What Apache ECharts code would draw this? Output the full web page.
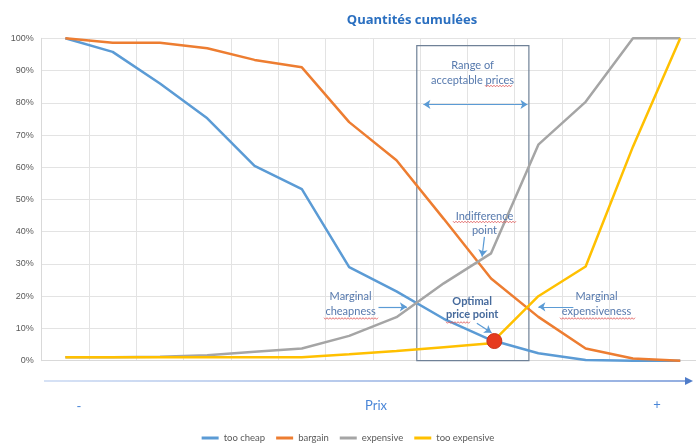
<!DOCTYPE html>
<html><head><meta charset="utf-8">
<script src="https://cdn.jsdelivr.net/npm/echarts@6/dist/echarts.min.js"></script>
<style>html,body{margin:0;padding:0;background:#fff}#c{width:696px;height:445px}</style>
</head><body><div id="c"></div>
<script>
const seriesNames = ['too cheap','bargain','expensive','too expensive'];
const tooCheap     = [100, 95.8, 86, 75.2, 60.4, 53.2, 29, 21.5, 13, 6.4, 2.3, 0.2, 0, 0];
const bargain      = [100, 98.6, 98.6, 96.9, 93.3, 91, 74, 62.2, 44, 25.5, 13.6, 3.8, 0.7, 0];
const expensive    = [1.1, 1.1, 1.2, 1.7, 2.8, 3.8, 7.7, 13.5, 24, 33.3, 67, 80.3, 100, 100];
const tooExpensive = [1.1, 1.1, 1.1, 1.1, 1.1, 1.1, 2, 3, 4.2, 5.4, 20, 29.2, 66.4, 100];
const yTicks = [0,10,20,30,40,50,60,70,80,90,100];
const colors = ['#5b9bd5','#ed7d31','#a5a5a5','#ffc000'];

const toXY = arr => arr.map((v,i)=>[i+0.5, v]);
const annTextColor = '#5679ad';
const arrowColor = '#5b9bd5';

const chart = echarts.init(document.getElementById('c'), null, {renderer:'canvas'});
const mkSeries = (name, vals, idx) => ({
  name, type:'line', data: toXY(vals), symbol:'none', smooth:false,
  lineStyle:{width:2.5, color:colors[idx]}, itemStyle:{color:colors[idx]},
  animation:false, z: 2
});
const series = [
  mkSeries(seriesNames[0], tooCheap, 0),
  mkSeries(seriesNames[1], bargain, 1),
  mkSeries(seriesNames[2], expensive, 2),
  mkSeries(seriesNames[3], tooExpensive, 3)
];
const ln = (a,b,s0,s1)=>[{coord:a, symbol:s0}, {coord:b, symbol:s1}];
series[3].markArea = {
  silent:true,
  itemStyle:{color:'rgba(0,0,0,0)', borderColor:'#6f8197', borderWidth:1.2},
  data:[[{coord:[7.93, 97.7]},{coord:[10.30, 0]}]]
};
series[3].markLine = {
  silent:true, animation:false, symbolSize:7,
  label:{show:false},
  lineStyle:{color:arrowColor, width:1.2, type:'solid'},
  data:[
    ln([8.07,79.5],[10.27,79.5],'arrow','arrow'),
    ln([9.36,38.4],[9.31,32.3],'none','arrow'),
    ln([7.12,16.7],[7.72,16.7],'none','arrow'),
    ln([9.20,11.6],[9.51,8.7],'none','arrow'),
    ln([11.24,16.7],[10.50,16.7],'none','arrow')
  ]
};
series[3].markPoint = {
  silent:true, animation:false,
  symbol:'circle', symbolSize:15,
  itemStyle:{color:'#e63b1f', borderColor:'#c8321a', borderWidth:1},
  label:{show:false},
  data:[{coord:[9.57, 6.1]}]
};

chart.setOption({
  animation:false,
  title:{text:'Quantités cumulées', left:407, top:9, textAlign:'center',
    textStyle:{fontFamily:'Open Sans', fontWeight:'bold', fontSize:13, color:'#2a6fc0'}},
  legend:{data:seriesNames, top:428, left:'center', icon:'rect', itemWidth:17, itemHeight:3, itemGap:11,
    textStyle:{fontFamily:'Lato', fontSize:9.5, color:'#595959'}},
  grid:{left:41.7, width:662.2, top:38.3, bottom:84.3, containLabel:false, outerBoundsMode:'none'},
  xAxis:{type:'value', min:0, max:14, interval:1,
    axisLine:{show:true, lineStyle:{color:'#d9d9d9'}}, axisTick:{show:false}, axisLabel:{show:false},
    splitLine:{show:true, lineStyle:{color:'#e3e3e3', width:1}}},
  yAxis:{type:'value', min:yTicks[0], max:yTicks[yTicks.length-1], interval:yTicks[1]-yTicks[0],
    axisLine:{show:true, lineStyle:{color:'#d9d9d9'}}, axisTick:{show:false},
    axisLabel:{formatter:'{value}%', fontFamily:'Liberation Sans', fontSize:9, color:'#595959', margin:8},
    splitLine:{show:true, lineStyle:{color:'#e3e3e3', width:1}}},
  series
});

const texts = [
  {t:'Range of', x:9.11, y:91.7},
  {t:'acceptable prices', x:9.11, y:87.0},
  {t:'Indifference', x:9.36, y:44.7},
  {t:'point', x:9.36, y:40.3},
  {t:'Marginal', x:6.53, y:19.8},
  {t:'cheapness', x:6.53, y:15.4},
  {t:'Optimal', x:9.10, y:18.3, b:true},
  {t:'price point', x:9.10, y:14.2, b:true},
  {t:'Marginal', x:11.73, y:19.85},
  {t:'expensiveness', x:11.73, y:15.4}
];
const graphic = [];
texts.forEach(o=>{
  const p = chart.convertToPixel({gridIndex:0}, [o.x, o.y]);
  graphic.push({type:'text', x:p[0], y:p[1], silent:true, z:100,
    style:{text:o.t, fill: o.b ? '#466a9c' : annTextColor, font:(o.b?'bold ':'')+'11px Lato',
      textAlign:'center', textVerticalAlign:'middle'}});
});
// spell-check squiggles
function squiggle(x1,x2,y){
  const pts=[]; let k=0;
  for(let x=x1;x<=x2;x+=1.5){ pts.push([x, y + (k%2?0.8:-0.8)]); k++; }
  graphic.push({type:'polyline', silent:true, z:100, shape:{points:pts}, style:{stroke:'#e05050', lineWidth:0.8, fill:null}});
}
squiggle(485,513,86);
squiggle(453,516,222);
squiggle(324,379,318.5);
squiggle(446,471,322.5);
squiggle(560,635,318.5);
// bottom price axis arrow
graphic.push({type:'line', silent:true, shape:{x1:44,y1:381,x2:686,y2:381},
  style:{lineWidth:1.5, stroke:new echarts.graphic.LinearGradient(0,0,1,0,[{offset:0,color:'#c9d8f2'},{offset:1,color:'#6f93d6'}])}});
graphic.push({type:'polygon', silent:true, shape:{points:[[685,377],[693,381],[685,385]]}, style:{fill:'#4f7cc9'}});
graphic.push({type:'text', x:79, y:407, silent:true, style:{text:'-', font:'13px Lato', fill:'#4a86d8', textAlign:'center', textVerticalAlign:'middle'}});
graphic.push({type:'text', x:376, y:406, silent:true, style:{text:'Prix', font:'13px Lato', fill:'#4a86d8', textAlign:'center', textVerticalAlign:'middle'}});
graphic.push({type:'text', x:657, y:405, silent:true, style:{text:'+', font:'13px Lato', fill:'#4a86d8', textAlign:'center', textVerticalAlign:'middle'}});
chart.setOption({graphic});
</script>
</body></html>
